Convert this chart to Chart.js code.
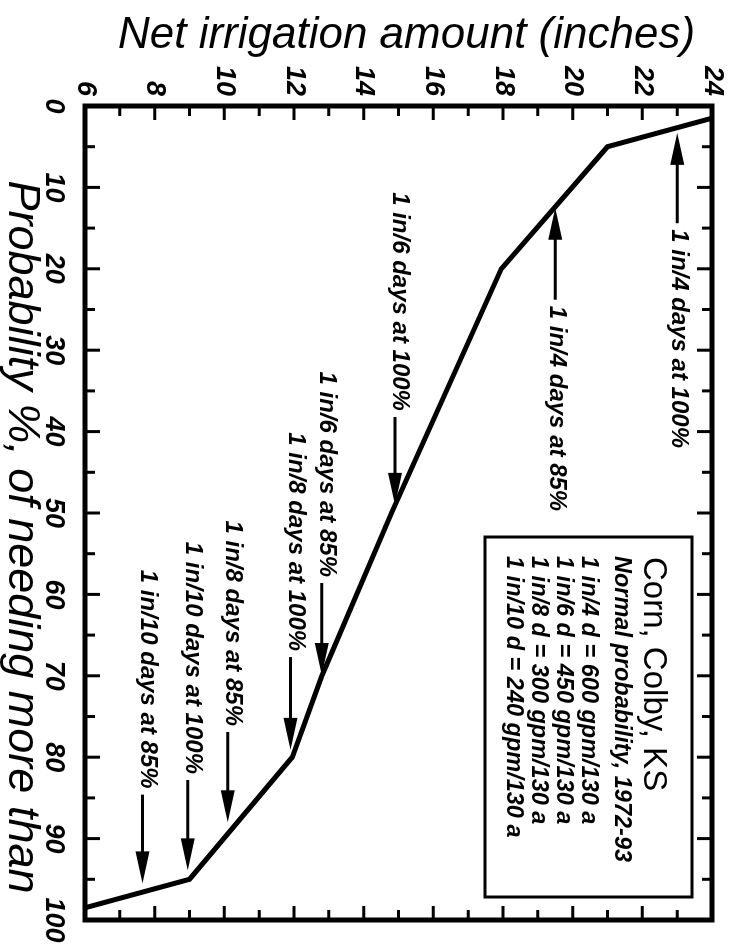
<!DOCTYPE html>
<html><head><meta charset="utf-8">
<script src="https://cdn.jsdelivr.net/npm/chart.js@4.4.0/dist/chart.umd.min.js"></script>
<style>
html,body{margin:0;padding:0;background:#fff;overflow:hidden;}
#wrap{position:absolute;left:0;top:0;width:945px;height:729px;transform-origin:0 0;transform:translateX(729px) rotate(90deg);background:#fff;}
</style></head><body>
<div id="wrap"><canvas id="c" width="945" height="729"></canvas></div>
<script>
// ---- data ----
const probability   = [1.5, 5, 20, 50, 70, 80, 95, 98.5];       // % of needing more than
const netIrrigation = [24, 21, 17.95, 14.8, 12.8, 11.95, 9, 6];   // inches
const probTicks = [0, 10, 20, 30, 40, 50, 60, 70, 80, 90, 100];
const irrigationTicks = [6, 8, 10, 12, 14, 16, 18, 20, 22, 24];
const probTickMarks = [5, 10, 15, 20, 25, 30, 35, 40, 45, 50, 55, 60, 65, 70, 75, 80, 85, 90, 95];
const irrigationTickMarks = [7, 8, 9, 10, 11, 12, 13, 14, 15, 16, 17, 18, 19, 20, 21, 22, 23];
const annotationLabels = [
  '1 in/4 days at 100%', '1 in/4 days at 85%',
  '1 in/6 days at 100%', '1 in/6 days at 85%',
  '1 in/8 days at 100%', '1 in/8 days at 85%',
  '1 in/10 days at 100%', '1 in/10 days at 85%'
];
const annotationAmount = [23, 19.5, 14.9, 12.8, 11.9, 10.1, 8.95, 7.65];
const annotationTip    = [3.3, 12.5, 49, 69.9, 79.1, 88, 93.9, 95.5];
const annotationTail   = [14.4, 23.8, 38.2, 58.6, 67.7, 76.9, 82.8, 84.6];
const legendTitle = 'Corn, Colby, KS';
const legendLines = [
  'Normal probability, 1972-93',
  '1 in/4 d = 600 gpm/130 a',
  '1 in/6 d = 450 gpm/130 a',
  '1 in/8 d = 300 gpm/130 a',
  '1 in/10 d = 240 gpm/130 a'
];
const xTitle = 'Probability %, of needing more than';
const yTitle = 'Net irrigation amount (inches)';

const FAM = '"Liberation Sans", Arial, Helvetica, sans-serif';

const framePlugin = {
  id: 'frameTicks',
  afterDatasetsDraw(chart) {
    const {ctx, chartArea: a, scales: {x, y}} = chart;
    ctx.save();
    ctx.strokeStyle = '#000';
    ctx.lineWidth = 3;
    ctx.beginPath();
    probTickMarks.forEach(p => {
      const px = x.getPixelForValue(p);
      const len = p % 10 === 0 ? 15 : 10;
      ctx.moveTo(px, a.bottom); ctx.lineTo(px, a.bottom - len);
      ctx.moveTo(px, a.top); ctx.lineTo(px, a.top + len);
    });
    irrigationTickMarks.forEach(v => {
      const py = y.getPixelForValue(v);
      const len = v % 2 === 0 ? 14 : 10;
      ctx.moveTo(a.left, py); ctx.lineTo(a.left + len, py);
      ctx.moveTo(a.right, py); ctx.lineTo(a.right - len, py);
    });
    ctx.stroke();
    ctx.lineWidth = 5;
    ctx.strokeRect(a.left, a.top, a.right - a.left, a.bottom - a.top);

    // axis titles
    ctx.fillStyle = '#000';
    ctx.textAlign = 'center';
    ctx.textBaseline = 'middle';
    ctx.font = 'italic 45px ' + FAM;
    ctx.fillText(xTitle, (a.left + a.right) / 2 + 24, chart.height - 22);
    ctx.save();
    ctx.translate(36, (a.top + a.bottom) / 2 - 8);
    ctx.rotate(-Math.PI / 2);
    ctx.font = 'italic 44px ' + FAM;
    ctx.fillText(yTitle, 0, 0);
    ctx.restore();

    // annotations
    ctx.font = 'italic bold 24px ' + FAM;
    annotationLabels.forEach((lab, i) => {
      const yy = y.getPixelForValue(annotationAmount[i]);
      const xTip = x.getPixelForValue(annotationTip[i]);
      const xTail = x.getPixelForValue(annotationTail[i]);
      const dir = Math.sign(xTip - xTail);
      const headLen = 32, headW = 7;
      ctx.lineWidth = 3;
      ctx.beginPath();
      ctx.moveTo(xTail, yy); ctx.lineTo(xTip - dir * headLen * 0.8, yy);
      ctx.stroke();
      ctx.beginPath();
      ctx.moveTo(xTip, yy);
      ctx.lineTo(xTip - dir * headLen, yy - headW);
      ctx.lineTo(xTip - dir * headLen, yy + headW);
      ctx.closePath();
      ctx.fill();
      if (dir < 0) { ctx.textAlign = 'left'; ctx.fillText(lab, xTail + 6, yy - 1); }
      else { ctx.textAlign = 'right'; ctx.fillText(lab, xTail - 6, yy - 5); }
    });

    // legend box
    const bw = 360, bh = 207;
    const bx = a.right - 23 - bw, by = a.top + 20;
    ctx.lineWidth = 3;
    ctx.strokeRect(bx, by, bw, bh);
    ctx.textAlign = 'left';
    ctx.font = '33px ' + FAM;
    ctx.fillText(legendTitle, bx + 20, by + 39);
    ctx.font = 'italic bold 23.5px ' + FAM;
    const offs = [71, 104, 129, 154, 179];
    legendLines.forEach((t, i) => ctx.fillText(t, bx + 19, by + offs[i]));
    ctx.restore();
  }
};

new Chart(document.getElementById('c'), {
  type: 'scatter',
  data: {
    datasets: [{
      data: probability.map((p, i) => ({x: p, y: netIrrigation[i]})),
      showLine: true,
      borderColor: '#000',
      borderWidth: 5,
      pointRadius: 0,
      tension: 0,
      borderJoinStyle: 'miter'
    }]
  },
  options: {
    responsive: false,
    animation: false,
    devicePixelRatio: 1,
    layout: {padding: {top: 17, right: 25, left: 0, bottom: 0}},
    plugins: {legend: {display: false}, tooltip: {enabled: false}},
    scales: {
      x: {
        type: 'linear', position: 'bottom', min: 0, max: 100,
        afterBuildTicks: s => { s.ticks = probTicks.map(v => ({value: v})); },
        afterFit: s => { s.height = 85; s.paddingLeft = 0; s.paddingRight = 0; },
        grid: {display: false, drawTicks: false},
        border: {display: false},
        ticks: {color: '#000', padding: 15, maxRotation: 0, autoSkip: false,
          font: {family: FAM, size: 27, style: 'italic', weight: 'bold'}},
        title: {display: false, text: xTitle}
      },
      y: {
        type: 'linear', min: 6, max: 24,
        afterBuildTicks: s => { s.ticks = irrigationTicks.map(v => ({value: v})); },
        afterFit: s => { s.width = 106; s.paddingTop = 0; s.paddingBottom = 0; },
        grid: {display: false, drawTicks: false},
        border: {display: false},
        ticks: {color: '#000', padding: 10, autoSkip: false,
          font: {family: FAM, size: 27, style: 'italic', weight: 'bold'}},
        title: {display: false, text: yTitle}
      }
    }
  },
  plugins: [framePlugin]
});
</script>
</body></html>
